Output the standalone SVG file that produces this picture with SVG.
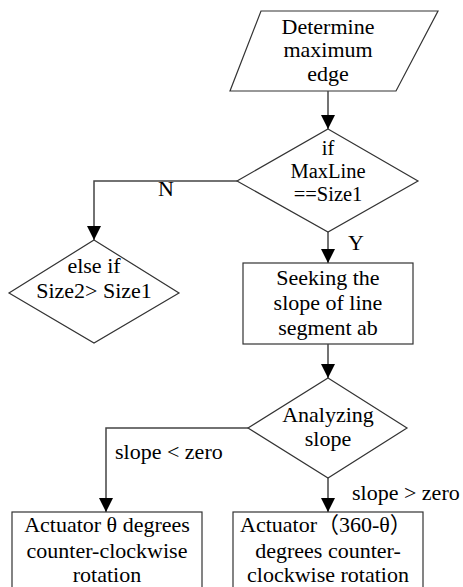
<svg xmlns="http://www.w3.org/2000/svg" width="463" height="587" viewBox="0 0 463 587">
<defs>
<marker id="arr" markerUnits="userSpaceOnUse" markerWidth="14" markerHeight="14" refX="14" refY="7" orient="auto">
<path d="M0,0 L14,7 L0,14 z" fill="#000"/>
</marker>
<style>
.s{fill:#fff;stroke:#333;stroke-width:1.2}
.c{fill:none;stroke:#444;stroke-width:1.5}
text{font-family:"Liberation Serif","Noto Sans CJK SC",serif;font-size:22px;fill:#000;text-anchor:middle}
.l{text-anchor:start}
.t{font-size:20.5px}
</style>
</defs>
<rect width="463" height="587" fill="#fff"/>
<g id="n1">
<polygon class="s" points="261,11 438,11 396,91 230,91"/>
<text x="328" y="34">Determine</text>
<text x="328" y="57">maximum</text>
<text x="328" y="81">edge</text>
</g>
<g id="n2">
<polygon class="s" points="328,129 418,181 328,232 237,181"/>
<text class="t" x="328" y="155">if</text>
<text class="t" x="328" y="178">MaxLine</text>
<text class="t" x="328" y="201">==Size1</text>
</g>
<g id="n3">
<polygon class="s" points="94,240 179,293 94,343 9,293"/>
<text x="94" y="273">else if</text>
<text x="94" y="298">Size2&gt; Size1</text>
</g>
<g id="n4">
<rect class="s" x="243" y="263" width="170" height="81"/>
<text x="328" y="285">Seeking the</text>
<text x="328" y="310">slope of line</text>
<text x="328" y="335">segment ab</text>
</g>
<g id="n5">
<polygon class="s" points="328,378 407,428 328,478 248,428"/>
<text x="328" y="422">Analyzing</text>
<text x="328" y="446">slope</text>
</g>
<g id="n6">
<rect class="s" x="12" y="512" width="190" height="80"/>
<text x="107" y="532">Actuator θ degrees</text>
<text x="107" y="558">counter-clockwise</text>
<text x="107" y="582">rotation</text>
</g>
<g id="n7">
<rect class="s" x="233" y="512" width="190" height="80"/>
<text class="l" x="240" y="532">Actuator（360-θ）</text>
<text x="328" y="558">degrees counter-</text>
<text x="328" y="582">clockwise rotation</text>
</g>
<g id="connectors">
<path class="c" d="M328,91 L328,129" marker-end="url(#arr)"/>
<path class="c" d="M237,181 L94,181 L94,240" marker-end="url(#arr)"/>
<path class="c" d="M328,232 L328,263" marker-end="url(#arr)"/>
<path class="c" d="M328,344 L328,378" marker-end="url(#arr)"/>
<path class="c" d="M248,428 L106,428 L106,512" marker-end="url(#arr)"/>
<path class="c" d="M328,478 L328,512" marker-end="url(#arr)"/>
<text x="166" y="196">N</text>
<text x="356" y="250">Y</text>
<text class="l" x="115" y="459">slope &lt; zero</text>
<text class="l" x="352" y="500">slope &gt; zero</text>
</g>
</svg>
